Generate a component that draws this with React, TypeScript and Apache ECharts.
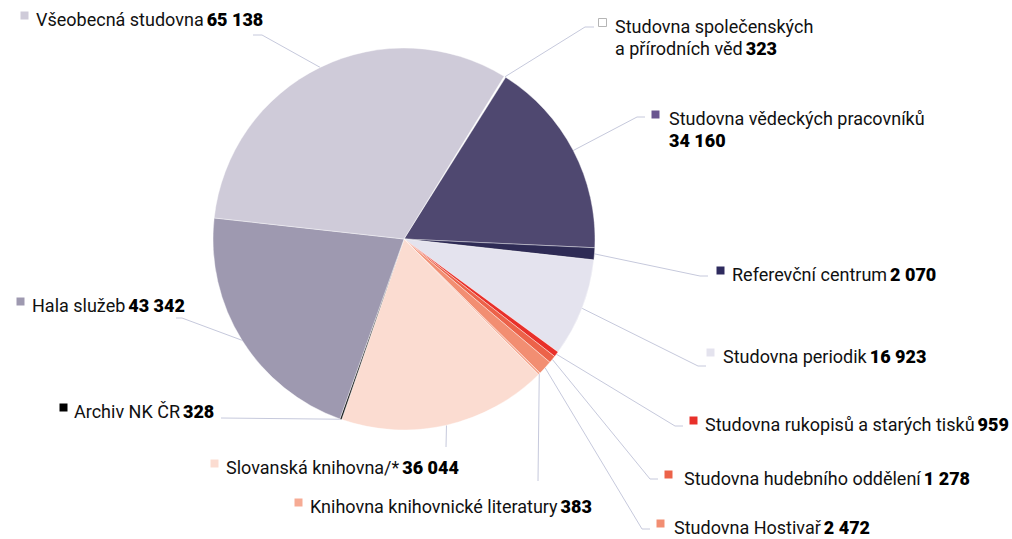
import React, { useEffect, useRef } from "react";
import * as echarts from "echarts";

const names = [
  "Studovna společenských\na přírodních věd",
  "Studovna vědeckých pracovníků",
  "Referevční centrum",
  "Studovna periodik",
  "Studovna rukopisů a starých tisků",
  "Studovna hudebního oddělení",
  "Studovna Hostivař",
  "Knihovna knihovnické literatury",
  "Slovanská knihovna/*",
  "Archiv NK ČR",
  "Hala služeb",
  "Všeobecná studovna",
];
const values = [323, 34160, 2070, 16923, 959, 1278, 2472, 383, 36044, 328, 43342, 65138];
const valueOnNewLine = [false, true, false, false, false, false, false, false, false, false, false, false];

const sliceColors = [
  "#ffffff", "#4f4870", "#2e2b55", "#e4e3ee", "#e8302a", "#ec6249",
  "#f28e72", "#f6ab94", "#fbdcd1", "#1a1a1a", "#9e99b0", "#cfcbd9",
];
const squareColors = [
  "#ffffff", "#6a5590", "#2e2b5e", "#e4e3ee", "#e8302a", "#ec6249",
  "#f28e72", "#f6ab94", "#fbdcd1", "#000000", "#9e99b0", "#cfcbd9",
];

// layout: square top-left [sx, sy], text x
const squarePos = [
  [598, 18], [651, 110], [716, 266], [706, 348], [689, 416], [664, 470],
  [656, 519], [294, 498], [210, 459], [59, 403], [16, 297], [20, 11],
];
const textX = [615, 669, 732, 723, 705, 684, 674, 310, 226, 74, 32, 36];
// label line bend and end points
const lineBend = [
  [585, 27], [637, 117], [700, 276], [698, 366], [675, 426], [650, 479],
  [642, 529], [538, 481], [446, 447], [221, 418], [182, 318], [262, 35],
];
const lineEnd = [
  [594, 27], [645, 117], [708, 276], [706, 366], [683, 426], [658, 479],
  [650, 529], [538, 481], [446, 447], [221, 418], [176, 318], [253, 35],
];

const CX = 404, CY = 239, R = 191, START = 58.4;

function fmt(v: number) {
  return String(v).replace(/\B(?=(\d{3})+(?!\d))/g, " ");
}

export default function App() {
  const ref = useRef<HTMLDivElement>(null);
  useEffect(() => {
    document.body.style.margin = "0";
    if (!ref.current) return;
    const chart = echarts.init(ref.current, null, { renderer: "svg" });
    const total = values.reduce((a, b) => a + b, 0);
    const edgePoint = (i: number) => {
      let before = 0;
      for (let k = 0; k < i; k++) before += values[k];
      const midDeg = START - ((before + values[i] / 2) / total) * 360;
      const a = (midDeg * Math.PI) / 180;
      return [CX + R * Math.cos(a), CY - R * Math.sin(a)];
    };
    const isMulti = (i: number) => names[i].includes("\n") || valueOnNewLine[i];
    const font = "Roboto, 'Noto Sans', sans-serif";
    chart.setOption({
      animation: false,
      backgroundColor: "#ffffff",
      graphic: squarePos.map((p, i) => ({
        type: "rect",
        silent: true,
        shape: { x: p[0] + 0.5, y: p[1] + 0.5, width: 8, height: 8 },
        style: {
          fill: squareColors[i],
          stroke: i === 0 ? "#b5b5b5" : squareColors[i],
          lineWidth: i === 0 ? 1 : 0,
        },
      })),
      series: [
        {
          type: "pie",
          silent: true,
          radius: R,
          center: [CX, CY],
          startAngle: START,
          clockwise: true,
          avoidLabelOverlap: false,
          minAngle: 0,
          emphasis: { disabled: true },
          itemStyle: { borderColor: "#ffffff", borderWidth: 0.4 },
          data: values.map((v, i) => ({
            name: names[i],
            value: v,
            itemStyle: { color: sliceColors[i] },
          })),
          label: {
            show: true,
            position: "outside",
            fontFamily: font,
            formatter: (p: any) => {
              const i = p.dataIndex;
              const m = isMulti(i);
              const n = m ? "m" : "n";
              const v = m ? "w" : "v";
              const lines = names[i].split("\n").map((l) => `{${n}|${l}}`);
              const sep = valueOnNewLine[i] ? "\n" : " ";
              return lines.join("\n") + sep + `{${v}|${fmt(values[i])}}`;
            },
            rich: {
              n: { fontFamily: font, fontSize: 18, color: "#111111", lineHeight: 16 },
              v: { fontFamily: font, fontSize: 18, fontWeight: 900, color: "#000000", lineHeight: 16 },
              m: { fontFamily: font, fontSize: 18, color: "#111111", lineHeight: 22 },
              w: { fontFamily: font, fontSize: 18, fontWeight: 900, color: "#000000", lineHeight: 22 },
            },
          },
          labelLine: {
            show: true,
            length: 10,
            length2: 10,
            lineStyle: { color: "#c6c9dc", width: 1 },
          },
          labelLayout: (params: any) => {
            const i = params.dataIndex;
            const start =
              params.labelLinePoints && params.labelLinePoints[0]
                ? params.labelLinePoints[0]
                : edgePoint(i);
            return {
              x: textX[i],
              y: squarePos[i][1] + (isMulti(i) ? -3 : 0),
              align: "left",
              verticalAlign: "top",
              labelLinePoints: [start, lineBend[i], lineEnd[i]],
            };
          },
        },
      ],
    });
    return () => chart.dispose();
  }, []);
  return <div ref={ref} style={{ width: 1012, height: 539 }} />;
}
